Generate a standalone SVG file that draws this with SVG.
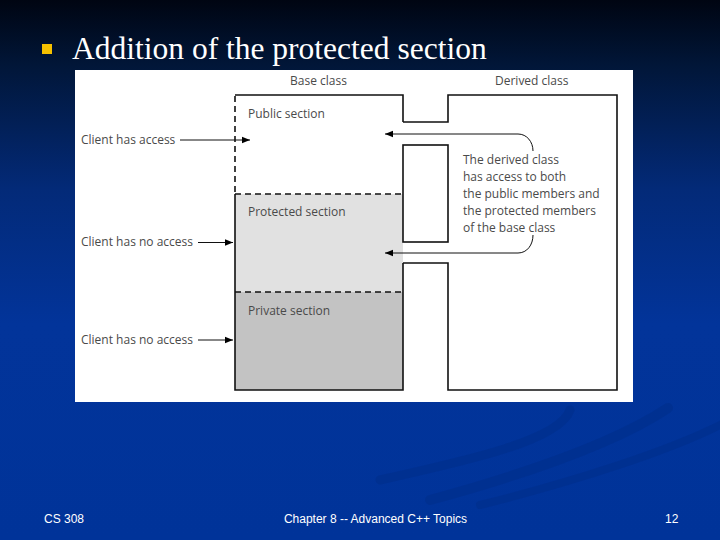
<svg xmlns="http://www.w3.org/2000/svg" width="720" height="540" viewBox="0 0 720 540">
<defs>
<linearGradient id="bg" x1="0" y1="0" x2="0" y2="1">
<stop offset="0" stop-color="#000512"/>
<stop offset="0.12" stop-color="#011638"/>
<stop offset="0.35" stop-color="#032a78"/>
<stop offset="0.6" stop-color="#02349a"/>
<stop offset="1" stop-color="#003399"/>
</linearGradient>
<marker id="ah" viewBox="0 0 10 10" refX="10" refY="5" markerWidth="10" markerHeight="8" markerUnits="userSpaceOnUse" orient="auto">
<path d="M0,1 L10,5 L0,9 Z" fill="#000"/>
</marker>
<style>
.lbl{font-family:"Open Sans","DejaVu Sans",sans-serif;font-size:12px;fill:#4a4a4a}
.ln{fill:none;stroke:#111;stroke-width:1.6}
.dash{fill:none;stroke:#111;stroke-width:1.6;stroke-dasharray:6,4}
.arr{fill:none;stroke:#111;stroke-width:1}
.foot{font-family:"Liberation Sans",Arial,sans-serif;font-size:12px;fill:#ffffff}
</style>
</defs>
<rect x="0" y="0" width="720" height="540" fill="url(#bg)"/>
<g id="swooshes" fill="none" stroke="#002a80" stroke-opacity="0.35" stroke-linecap="round">
<path d="M380,480 C470,460 560,440 570,410" stroke-width="9"/>
<path d="M430,500 C540,470 620,440 668,408" stroke-width="10"/>
<path d="M480,505 C580,480 670,450 720,425" stroke-width="8"/>
</g>
<g id="title">
<rect x="42" y="44" width="10" height="10" fill="#f5c000"/>
<text x="72" y="59" font-family="'Liberation Serif','Times New Roman',serif" font-size="31.5" fill="#ffffff">Addition of the protected section</text>
</g>
<rect id="panel" x="75" y="70" width="558" height="332" fill="#ffffff"/>
<g id="base-class">
<rect x="235" y="194" width="168" height="98" fill="#e1e1e1"/>
<rect x="235" y="292" width="168" height="98" fill="#c3c3c3"/>
<path class="dash" d="M235,96 L235,194"/>
<path class="dash" d="M235,194 L403,194"/>
<path class="dash" d="M235,292 L403,292"/>
<path class="ln" d="M235,194 L235,390 L403,390 L403,263"/>
<path class="ln" d="M235,95 L403,95 L403,122"/>
<text class="lbl" x="290" y="85">Base class</text>
<text class="lbl" x="248" y="118">Public section</text>
<text class="lbl" x="248" y="216">Protected section</text>
<text class="lbl" x="248" y="315">Private section</text>
</g>
<g id="derived-class">
<path class="ln" d="M403,122 L448,122 L448,95 L617,95 L617,390 L448,390 L448,263 L403,263"/>
<rect class="ln" x="403" y="145" width="45" height="97" fill="#ffffff"/>
<text class="lbl" x="495" y="85">Derived class</text>
<text class="lbl" x="463" y="164">The derived class</text>
<text class="lbl" x="463" y="181">has access to both</text>
<text class="lbl" x="463" y="198">the public members and</text>
<text class="lbl" x="463" y="215">the protected members</text>
<text class="lbl" x="463" y="232">of the base class</text>
</g>
<g id="client-labels">
<text class="lbl" x="81" y="144">Client has access</text>
<text class="lbl" x="81" y="246">Client has no access</text>
<text class="lbl" x="81" y="344">Client has no access</text>
</g>
<g id="connectors">
<path class="arr" d="M180,140 L250,140" marker-end="url(#ah)"/>
<path class="arr" d="M198,242.5 L233,242.5" marker-end="url(#ah)"/>
<path class="arr" d="M198,340 L233,340" marker-end="url(#ah)"/>
<path class="arr" d="M533,151 C533,142 527,134 518,134 L385,134" marker-end="url(#ah)"/>
<path class="arr" d="M533,235 C533,245 527,253 518,253 L385,253" marker-end="url(#ah)"/>
</g>
<g id="footer">
<text class="foot" x="44" y="523">CS 308</text>
<text class="foot" x="375.5" y="523" text-anchor="middle">Chapter 8 -- Advanced C++ Topics</text>
<text class="foot" x="665" y="523">12</text>
</g>
</svg>
